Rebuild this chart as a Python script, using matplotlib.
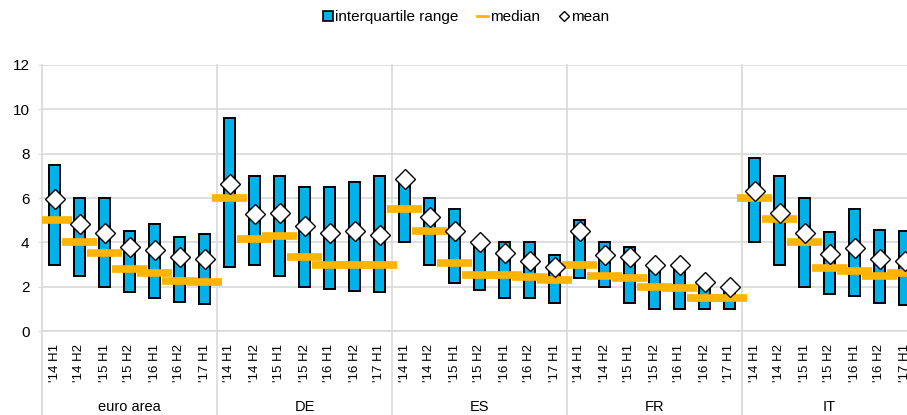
import matplotlib.pyplot as plt
from matplotlib.lines import Line2D
import matplotlib.transforms as mtransforms
import numpy as np

plt.rcParams['font.family'] = ['Liberation Sans', 'DejaVu Sans']

groups = ["euro area", "DE", "ES", "FR", "IT"]
periods = ["'14 H1", "'14 H2", "'15 H1", "'15 H2", "'16 H1", "'16 H2", "'17 H1"]

# lower / upper quartile, median, mean (per group, 7 half-years each)
q1 = [3.0, 2.5, 2.0, 1.75, 1.5, 1.3, 1.22,
      2.9, 3.0, 2.5, 2.0, 1.9, 1.82, 1.75,
      4.0, 3.0, 2.15, 1.85, 1.5, 1.5, 1.28,
      2.4, 2.0, 1.25, 1.0, 1.0, 1.0, 1.0,
      4.0, 3.0, 2.0, 1.65, 1.6, 1.28, 1.17]
q3 = [7.5, 6.0, 6.0, 4.5, 4.83, 4.25, 4.36,
      9.6, 7.0, 7.0, 6.5, 6.5, 6.73, 7.0,
      6.7, 6.0, 5.5, 3.9, 4.0, 4.0, 3.43,
      5.0, 4.0, 3.8, 2.8, 2.8, 2.1, 1.9,
      7.82, 7.0, 6.0, 4.45, 5.5, 4.56, 4.51]
median = [5.0, 4.0, 3.52, 2.8, 2.63, 2.26, 2.22,
          6.0, 4.16, 4.3, 3.32, 2.98, 2.98, 2.98,
          5.52, 4.52, 3.08, 2.53, 2.51, 2.45, 2.3,
          3.0, 2.5, 2.4, 2.0, 1.96, 1.5, 1.5,
          6.0, 5.04, 4.0, 2.86, 2.72, 2.5, 2.63]
mean = [5.97, 4.83, 4.44, 3.8, 3.64, 3.35, 3.23,
        6.63, 5.26, 5.34, 4.74, 4.44, 4.51, 4.33,
        6.84, 5.15, 4.51, 4.03, 3.53, 3.16, 2.9,
        4.51, 3.43, 3.35, 2.98, 2.98, 2.19, 2.0,
        6.33, 5.31, 4.44, 3.47, 3.73, 3.25, 3.17]

blue = '#00B1EA'
orange = '#FFB400'
grid_c = '#D9D9D9'

W, H = 907, 415
fig = plt.figure(figsize=(W / 100, H / 100), dpi=100)
ax = fig.add_axes([42 / W, 84 / H, 875 / W, 266 / H])

n = len(groups) * len(periods)
x = np.arange(n)
q1 = np.array(q1)
q3 = np.array(q3)

ax.bar(x, q3 - q1, bottom=q1, width=0.44, color=blue, edgecolor='black',
       linewidth=1.4, zorder=3)
ax.hlines(median, x - 0.7, x + 0.7, color=orange, linewidth=5.5, zorder=4)
ax.plot(x, mean, linestyle='none', marker='D', markersize=10.5,
        markerfacecolor='white', markeredgecolor='black', markeredgewidth=1.0,
        zorder=5)

ax.set_xlim(-0.5, n - 0.5)
ax.set_ylim(0, 12)
ax.set_yticks(range(0, 13, 2))
ax.yaxis.grid(True, color=grid_c, linewidth=1.2, zorder=0)
ax.tick_params(axis='y', length=3, color=grid_c, labelsize=11, pad=6)
for s in ax.spines.values():
    s.set_visible(False)

ax.set_xticks(x)
ax.set_xticklabels(periods * len(groups), rotation=90, fontsize=9.5)
ax.tick_params(axis='x', length=0, pad=9)

# group separators, running down through the label area
trans = mtransforms.blended_transform_factory(ax.transData, ax.transAxes)
ng = len(periods)
for i in range(len(groups) + 1):
    xb = i * ng - 0.5
    ax.plot([xb, xb], [-84 / 266, 1], color=grid_c, linewidth=1.2,
            transform=trans, clip_on=False, zorder=1)
for i, g in enumerate(groups):
    ax.text(i * ng + (ng - 1) / 2, -76 / 266, g, transform=trans,
            ha='center', va='center', fontsize=10.5)
ax.plot([-0.5, n - 0.5], [0, 0], color=grid_c, linewidth=1.2, zorder=1,
        clip_on=False)

handles = [
    Line2D([], [], linestyle='none', marker='s', markersize=6.5,
           markerfacecolor=blue, markeredgecolor='black', markeredgewidth=1.2),
    Line2D([], [], color=orange, linewidth=2),
    Line2D([], [], linestyle='none', marker='D', markersize=5,
           markerfacecolor='white', markeredgecolor='black', markeredgewidth=1.0),
]
fig.legend(handles, ['interquartile range', 'median', 'mean'], ncol=3,
           loc='center', bbox_to_anchor=(466 / W, 1 - 17 / H), frameon=False,
           fontsize=11, handlelength=0.7, handletextpad=0.15,
           columnspacing=1.2)

fig.savefig('out.png', dpi=100)
